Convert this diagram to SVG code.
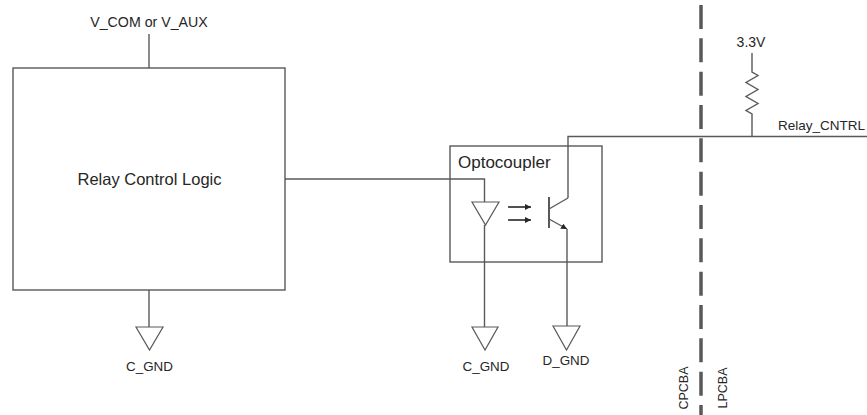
<svg xmlns="http://www.w3.org/2000/svg" width="867" height="415" viewBox="0 0 867 415">
<defs>
<style>
.ln{fill:none;stroke:#595959;stroke-width:1.4}
.box{fill:none;stroke:#595959;stroke-width:1.4}
.gnd{fill:#fff;stroke:#595959;stroke-width:1.2}
.t{font-family:"Liberation Sans",Arial,sans-serif;fill:#262626}
</style>
<marker id="ah" viewBox="0 0 10 10" refX="10" refY="5" markerWidth="6" markerHeight="6" orient="auto" markerUnits="userSpaceOnUse">
<path d="M0,0 L10,5 L0,10 z" fill="#262626"/>
</marker>
</defs>
<rect width="867" height="415" fill="#fff"/>
<g id="connectors">
<line class="ln" x1="149" y1="34" x2="149" y2="68"/>
<line class="ln" x1="149" y1="290" x2="149" y2="327"/>
<polyline class="ln" points="285,179 484.5,179 484.5,202"/>
<line class="ln" x1="484.5" y1="225" x2="484.5" y2="327"/>
<polyline class="ln" points="567,229 567,326"/>
<polyline class="ln" points="568,198 568,136.5 867,136.5"/>
<polyline class="ln" points="752,53 752,72 758,75.5 746,82.5 758,89.5 746,96.5 758,103.5 746,110.5 752,114 752,136.5"/>
<line x1="701" y1="5" x2="701" y2="415" stroke="#595959" stroke-width="3.5" stroke-dasharray="24 9.33"/>
</g>
<g id="relay_logic">
<rect class="box" x="13" y="68" width="272" height="222"/>
<text class="t" x="149.5" y="185" font-size="16.5" text-anchor="middle">Relay Control Logic</text>
</g>
<g id="vcom_label">
<text class="t" x="149" y="27" font-size="14.2" text-anchor="middle">V_COM or V_AUX</text>
</g>
<g id="gnd_left">
<polygon class="gnd" points="136,327 163,327 149.5,350"/>
<text class="t" x="149.5" y="371" font-size="13.4" text-anchor="middle">C_GND</text>
</g>
<g id="optocoupler">
<rect class="box" x="450" y="146" width="152" height="116"/>
<text class="t" x="458" y="168" font-size="17">Optocoupler</text>
<polygon class="gnd" points="472,202 499,202 485.5,225"/>
<line x1="508" y1="207" x2="531" y2="207" stroke="#262626" stroke-width="1.6" marker-end="url(#ah)"/>
<line x1="508" y1="220" x2="531" y2="220" stroke="#262626" stroke-width="1.6" marker-end="url(#ah)"/>
<line x1="549" y1="197" x2="549" y2="228" stroke="#595959" stroke-width="2"/>
<line class="ln" x1="549" y1="209" x2="568" y2="198"/>
<line class="ln" x1="549" y1="219" x2="567" y2="229" marker-end="url(#ah)"/>
</g>
<g id="gnd_c">
<polygon class="gnd" points="472,327 498,327 485,350"/>
<text class="t" x="486" y="371" font-size="13.4" text-anchor="middle">C_GND</text>
</g>
<g id="gnd_d">
<polygon class="gnd" points="553,326 580,326 566.5,350"/>
<text class="t" x="566" y="365" font-size="13.4" text-anchor="middle">D_GND</text>
</g>
<g id="pullup">
<text class="t" x="751" y="47" font-size="14" text-anchor="middle">3.3V</text>
<text class="t" x="778" y="130" font-size="13.5">Relay_CNTRL</text>
</g>
<g id="boundary_labels">
<text class="t" transform="translate(688,388) rotate(-90)" font-size="12.5" text-anchor="middle">CPCBA</text>
<text class="t" transform="translate(727,388) rotate(-90)" font-size="12.5" text-anchor="middle">LPCBA</text>
</g>
</svg>
